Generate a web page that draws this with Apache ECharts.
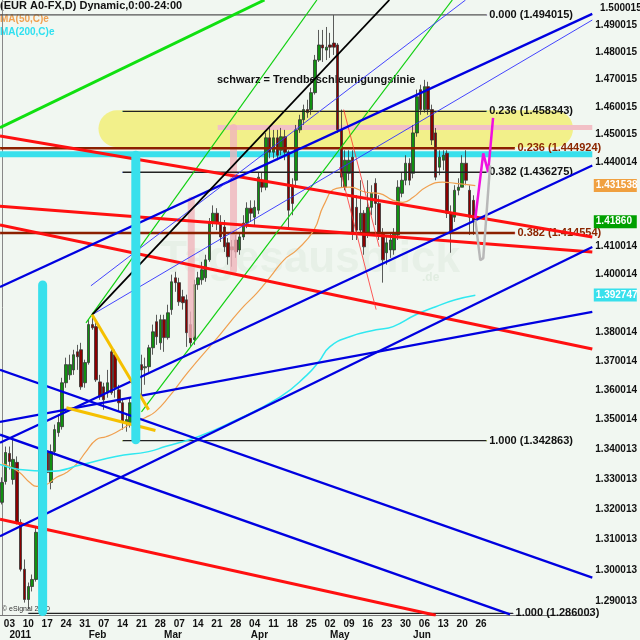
<!DOCTYPE html>
<html><head><meta charset="utf-8">
<script src="https://cdn.jsdelivr.net/npm/echarts@6/dist/echarts.min.js"></script>
<style>html,body{margin:0;padding:0;background:#f1f7f1}#c{width:640px;height:640px}</style>
</head><body><div id="c"></div>
<script>
// ---- categories & tick labels ----
const N = 157; // trading-day slots from 30 Dec 2010
const categories = Array.from({length: N}, (_, i) => String(i));
const weekIdx = [2,7,12,17,22,27,32,37,42,47,52,57,62,67,72,77,82,87,92,97,102,107,112,117,122,127];
const weekLabels = ['03','10','17','24','31','07','14','21','28','07','14','21','28','04','11','18','25','02','09','16','23','30','06','13','20','26'];
const monthIdx = [2,23,43,66,87,109];
const monthLabels = ['2011','Feb','Mar','Apr','May','Jun'];
const yTicks = [1.290013,1.300013,1.310013,1.320013,1.330013,1.340013,1.350014,1.360014,1.370014,1.380014,1.400014,1.410014,1.440014,1.450015,1.460015,1.470015,1.480015,1.490015];

// ---- candles ----
const opens=[1.3223,1.3292,1.3386,1.3299,1.3356,1.3157,1.3003,1.2905,1.2947,1.2970,
1.3134,1.3366,1.3389,1.3289,1.3392,1.3456,1.3476,1.3625,1.3652,1.3669,
1.3731,1.3738,1.3625,1.3694,1.3825,1.3818,1.3628,1.3611,1.3591,1.3731,
1.3721,1.3601,1.3557,1.3490,1.3490,1.3557,1.3601,1.3687,1.3676,1.3680,
1.3745,1.3835,1.3762,1.3842,1.3780,1.3877,1.3988,1.3971,1.3922,1.3911,
1.3825,1.3773,1.3964,1.3981,1.3988,1.4051,1.4181,1.4216,1.4181,1.4167,
1.4111,1.4097,1.4121,1.4086,1.4132,1.4181,1.4234,1.4202,1.4227,1.4334,
1.4309,1.4487,1.4435,1.4487,1.4442,1.4491,1.4435,1.4316,1.4334,1.4516,
1.4553,1.4590,1.4590,1.4652,1.4772,1.4828,1.4809,1.4828,1.4835,1.4828,
1.4516,1.4309,1.4359,1.4417,1.4237,1.4156,1.4216,1.4146,1.4237,1.4323,
1.4251,1.4146,1.4076,1.4086,1.4086,1.4139,1.4287,1.4334,1.4395,1.4359,
1.4505,1.4663,1.4590,1.4674,1.4590,1.4505,1.4381,1.4406,1.4431,1.4216,
1.4202,1.4298,1.4309,1.4395,1.4298,1.4262];
const closes=[1.3289,1.3389,1.3359,1.3366,1.3157,1.3003,1.2905,1.2947,1.2970,1.3124,
1.3399,1.3456,1.3322,1.3392,1.3466,1.3490,1.3625,1.3687,1.3687,1.3721,
1.3714,1.3611,1.3694,1.3825,1.3814,1.3635,1.3577,1.3567,1.3625,1.3591,
1.3608,1.3557,1.3490,1.3500,1.3557,1.3608,1.3714,1.3669,1.3680,1.3745,
1.3800,1.3783,1.3842,1.3780,1.3866,1.3974,1.3971,1.3904,1.3901,1.3797,
1.3762,1.3964,1.3988,1.4016,1.4051,1.4181,1.4216,1.4181,1.4132,1.4097,
1.4062,1.4086,1.4079,1.4132,1.4181,1.4234,1.4216,1.4237,1.4345,1.4309,
1.4487,1.4435,1.4487,1.4424,1.4491,1.4435,1.4227,1.4251,1.4516,1.4553,
1.4590,1.4579,1.4652,1.4772,1.4828,1.4817,1.4820,1.4820,1.4820,1.4516,
1.4345,1.4406,1.4406,1.4146,1.4156,1.4216,1.4097,1.4237,1.4287,1.4251,
1.4146,1.4051,1.4111,1.4121,1.4146,1.4309,1.4334,1.4395,1.4334,1.4505,
1.4637,1.4590,1.4674,1.4590,1.4479,1.4345,1.4417,1.4424,1.4216,1.4146,
1.4298,1.4309,1.4395,1.4334,1.4202,1.4186];
const lows=[1.3216,1.3282,1.3332,1.3282,1.3150,1.2996,1.2895,1.2873,1.2931,1.2963,
1.3127,1.3359,1.3276,1.3266,1.3379,1.3442,1.3466,1.3608,1.3635,1.3652,
1.3669,1.3601,1.3608,1.3687,1.3807,1.3628,1.3567,1.3533,1.3574,1.3584,
1.3574,1.3527,1.3466,1.3459,1.3473,1.3550,1.3594,1.3584,1.3618,1.3662,
1.3721,1.3755,1.3738,1.3731,1.3773,1.3859,1.3939,1.3890,1.3877,1.3748,
1.3748,1.3755,1.3946,1.3964,1.3974,1.4044,1.4167,1.4156,1.4114,1.4079,
1.4034,1.4027,1.4058,1.4069,1.4121,1.4163,1.4185,1.4174,1.4213,1.4291,
1.4298,1.4413,1.4413,1.4406,1.4424,1.4406,1.4167,1.4209,1.4316,1.4505,
1.4534,1.4560,1.4571,1.4645,1.4765,1.4765,1.4772,1.4780,1.4791,1.4505,
1.4309,1.4298,1.4334,1.4121,1.4121,1.4139,1.4069,1.4128,1.4209,1.4174,
1.4121,1.3971,1.4034,1.4058,1.4069,1.4121,1.4273,1.4316,1.4316,1.4341,
1.4491,1.4571,1.4579,1.4571,1.4461,1.4334,1.4352,1.4370,1.4199,1.4076,
1.4185,1.4280,1.4309,1.4316,1.4139,1.4139];
const highs=[1.3306,1.3409,1.3409,1.3432,1.3376,1.3167,1.3035,1.2960,1.2986,1.3140,
1.3432,1.3483,1.3442,1.3416,1.3483,1.3517,1.3642,1.3711,1.3721,1.3738,
1.3755,1.3762,1.3704,1.3842,1.3866,1.3835,1.3652,1.3625,1.3669,1.3738,
1.3738,1.3618,1.3567,1.3517,1.3574,1.3625,1.3731,1.3721,1.3711,1.3755,
1.3825,1.3859,1.3859,1.3859,1.3894,1.3999,1.4009,1.3988,1.3946,1.3929,
1.3870,1.3981,1.4009,1.4044,1.4069,1.4199,1.4244,1.4234,1.4209,1.4192,
1.4128,1.4121,1.4139,1.4149,1.4209,1.4255,1.4262,1.4262,1.4363,1.4363,
1.4505,1.4523,1.4516,1.4516,1.4523,1.4516,1.4442,1.4341,1.4534,1.4571,
1.4608,1.4626,1.4670,1.4791,1.4884,1.4884,1.4895,1.4873,1.4940,1.4835,
1.4590,1.4442,1.4442,1.4442,1.4280,1.4334,1.4227,1.4334,1.4316,1.4341,
1.4280,1.4163,1.4139,1.4149,1.4163,1.4334,1.4363,1.4424,1.4413,1.4534,
1.4663,1.4681,1.4699,1.4692,1.4608,1.4523,1.4442,1.4442,1.4442,1.4244,
1.4316,1.4341,1.4424,1.4442,1.4316,1.4280];

// ---- moving averages (sampled readings: [dayIndex, value]) ----
const ma50 = [[0,1.3352],[2.1,1.3342],[4.7,1.3322],[7.4,1.3289],[9.2,1.3276],[11.8,1.3282],[14.5,1.3306],[17.1,1.3322],[19.7,1.3349],[22.3,1.3392],[25,1.3432],[27.6,1.3442],[30.2,1.3456],[32.8,1.3476],[35.5,1.3493],[38.1,1.3507],[40.7,1.3527],[44.1,1.3574],[49.4,1.3662],[56.7,1.3773],[63.3,1.3877],[67.7,1.3936],[71.2,1.3992],[74.8,1.4051],[78.2,1.4086],[82.7,1.4156],[85.3,1.4244],[88.7,1.4305],[92.1,1.4309],[96.6,1.4291],[100,1.4287],[103.7,1.4262],[106.3,1.4255],[109,1.4273],[112.4,1.4309],[116.8,1.4327],[120.2,1.4323],[125.5,1.4315]];
const ma200 = [[-0.5,1.3349],[4.7,1.3332],[12.6,1.3326],[21.3,1.3349],[30.2,1.3376],[38.9,1.3392],[43.3,1.3409],[52,1.3442],[60.7,1.3490],[73.8,1.3577],[80.9,1.3652],[84,1.3697],[86.9,1.3748],[92.2,1.3783],[99.2,1.3807],[103.7,1.3818],[109.7,1.3859],[115,1.3887],[120.2,1.3911],[125.5,1.3927]];

// ---- drawn trend lines: [[day, price],[day, price]] ----
const greenThick = [[[-0.5,1.4524],[69.6,1.4996]]];
const greenThin = [[[22.3,1.3831],[83.5,1.4996]],[[37.0,1.3526],[119.4,1.4996]]];
const redThick = [[[-0.5,1.4494],[156.5,1.4132]],[[-0.5,1.4241],[156.5,1.4079]],[[-0.5,1.4174],[156.5,1.3741]],[[-0.5,1.3167],[115.0,1.2854]]];
const redThin = [[[90.6,1.4590],[100.0,1.4097]],[[89.5,1.4381],[99.2,1.3877]]];
const blueThick = [[[-0.5,1.3956],[156.5,1.4944]],[[-0.5,1.3422],[156.5,1.4387]],[[-0.5,1.3492],[156.5,1.3869]],[[-0.5,1.3669],[156.5,1.2976]],[[-0.5,1.3449],[134.7,1.2857]],[[-0.5,1.3111],[156.5,1.4096]]];
const blueThin = [[[23.6,1.3960],[122.9,1.4996]],[[23.9,1.3859],[156.5,1.4921]]];
const blackTrend = [[[23.9,1.3859],[102.7,1.4996]]];
const goldLines = [[[23.9,1.3859],[38.9,1.3533]],[[17.1,1.3540],[40.7,1.3463]]];
const magentaPath = [[125.5,1.4199],[127.6,1.4431],[128.9,1.4363],[130.2,1.4560]];
const grayPath = [[125.5,1.4192],[126.8,1.4050],[127.6,1.4057],[129.4,1.4387]];

// ---- fibonacci levels ----
const fibBlack = [[88,1.494015,'0.000 (1.494015)',-0.5,128.5],[32,1.458343,'0.236 (1.458343)',32,128.5],[32,1.436275,'0.382 (1.436275)',32,128.5],[32,1.342863,'1.000 (1.342863)',32,128.5],[7,1.286003,'1.000 (1.286003)',7,135.5]];
const fibBrown = [[1.444924,'0.236 (1.444924)'],[1.414554,'0.382 (1.414554)']];

// ---- highlight shapes ----
const yellowBand = [[30.5,1.4520],[146.5,1.4520]];
const cyanLevel = [[-0.5,1.4428],[156.5,1.4428]];
const cyanBars = [[[10.8,1.3963],[10.8,1.2866]],[[35.5,1.4424],[35.5,1.3432]]];
const pinkLevel = [[57.2,1.4525],[156.5,1.4525]];
const pinkBars = [[[61.4,1.4525],[61.4,1.4015]],[[50.2,1.4262],[50.2,1.3790]]];
const priceTags = [[1.431538,'1.431538','#f0a040'],[1.41860,'1.41860','#00a000'],[1.392747,'1.392747','#38e0ec']];

const chart = echarts.init(document.getElementById('c'));
const series = [];
function seg(pts, color, width, z, extra) {
  series.push(Object.assign({type:'line', xAxisIndex:2, data:pts, symbol:'none', silent:true, z:z||4,
    lineStyle:{color:color, width:width}, animation:false}, extra||{}));
}
seg(yellowBand, '#f2f08a', 37, 1, {lineStyle:{color:'#f2f08a', width:37, cap:'round'}});
seg(cyanLevel, '#38e0ec', 6, 1);
seg(pinkLevel, '#f2c0c6', 5, 1);
pinkBars.forEach(p => seg(p, 'rgba(240,180,188,0.8)', 7, 3, {lineStyle:{color:'rgba(240,180,188,0.8)', width:7, cap:'round'}}));
fibBrown.forEach(f => seg([[-0.5,f[0]],{value:[136,f[0]], symbol:'circle', symbolSize:1,
  label:{show:true, position:'right', distance:2, formatter:f[1], color:'#8b2500', fontSize:11, fontWeight:'bold', fontFamily:'Liberation Sans'}}],
  '#8b2000', 2.5, 3, {symbol:'circle', symbolSize:1, showSymbol:true}));
fibBlack.forEach(f => seg([[f[3],f[1]],{value:[f[4],f[1]], symbol:'circle', symbolSize:1,
  label:{show:true, position:'right', distance:2, formatter:f[2], color:'#111', fontSize:11, fontWeight:'bold', fontFamily:'Liberation Sans'}}],
  f[0]===88 ? '#555' : '#222', 1.3, 3, {symbol:'circle', symbolSize:1, showSymbol:true}));
seg(ma50, '#f0a050', 1.2, 3, {smooth:true});
seg(ma200, '#30e8f0', 1.5, 3, {smooth:true});
greenThick.forEach(p => seg(p, '#10e010', 3, 4));
greenThin.forEach(p => seg(p, '#10d010', 1.2, 4));
redThick.forEach(p => seg(p, '#ff1010', 3, 4));
redThin.forEach(p => seg(p, '#ff3030', 0.8, 4));
blueThick.forEach(p => seg(p, '#0000e0', 2.3, 4));
blueThin.forEach(p => seg(p, '#3030ff', 0.9, 4));
blackTrend.forEach(p => seg(p, '#000', 1.8, 4));
goldLines.forEach(p => seg(p, '#f5c000', 3, 4));
seg(magentaPath, '#f010e0', 2.5, 5);
seg(grayPath, '#b8b8b8', 2.5, 5);
cyanBars.forEach(p => seg(p, '#38e0ec', 9, 5, {lineStyle:{color:'#38e0ec', width:9, cap:'round'}}));
priceTags.forEach(t => seg([[150,t[0]],{value:[156.5,t[0]], symbol:'circle', symbolSize:1,
  label:{show:true, position:'right', distance:1, formatter:t[1], color:'#fff', backgroundColor:t[2],
    fontSize:10, fontWeight:'bold', fontFamily:'Liberation Sans', padding:[2,1,1,2], width:40}}],
  'rgba(0,0,0,0)', 0, 10, {symbol:'circle', symbolSize:1, showSymbol:true, clip:false, itemStyle:{color:'rgba(0,0,0,0)'}}));

const candleData = categories.map((c,i) => i < closes.length ? [opens[i], closes[i], lows[i], highs[i]] : '-');
series.push({type:'candlestick', xAxisIndex:0, data:candleData, barWidth:3, z:2, animation:false,
  itemStyle:{color:'#109010', color0:'#8b0000', borderColor:'#333', borderColor0:'#333', borderWidth:0.8}});

chart.setOption({
  animation:false,
  backgroundColor:'#f1f7f1',
  grid:{left:0, right:42, top:0, bottom:25},
  xAxis:[
    {type:'category', data:categories, boundaryGap:true, position:'bottom',
     axisLine:{lineStyle:{color:'#777'}},
     axisTick:{interval:(i)=>weekIdx.includes(i), length:3, lineStyle:{color:'#555'}},
     axisLabel:{interval:(i)=>weekIdx.includes(i), formatter:(v,i)=>weekLabels[weekIdx.indexOf(+v)] || '',
       color:'#111', fontSize:10, fontWeight:'bold', fontFamily:'Liberation Sans', margin:4, hideOverlap:false},
     splitLine:{show:false}},
    {type:'category', data:categories, boundaryGap:true, position:'bottom', offset:11,
     axisLine:{show:false}, axisTick:{show:false},
     axisLabel:{interval:(i)=>monthIdx.includes(i), formatter:(v)=>monthLabels[monthIdx.indexOf(+v)] || '', align:'left',
       color:'#111', fontSize:10, fontWeight:'bold', fontFamily:'Liberation Sans', margin:4}},
    {type:'value', min:-0.5, max:N-0.5, show:false}
  ],
  yAxis:{type:'log', min:1.2855, max:1.4996, position:'right',
    axisLine:{show:true, lineStyle:{color:'#888'}}, axisTick:{show:false}, splitLine:{show:false},
    axisLabel:{customValues:yTicks, formatter:(v)=>v.toFixed(6), color:'#111', fontSize:10, fontWeight:'bold', fontFamily:'Liberation Sans', margin:3}},
  graphic:[
    {type:'text', left:160, top:238, silent:true, z:0, style:{text:'Tagesausblick', font:'bold 44px Liberation Sans', fill:'rgba(195,218,195,0.22)'}},
    {type:'text', left:422, top:272, silent:true, z:0, style:{text:'.de', font:'bold 12px Liberation Sans', fill:'rgba(195,218,195,0.35)'}},
    {type:'text', left:0, top:0, style:{text:'(EUR A0-FX,D) Dynamic,0:00-24:00', font:'bold 11px Liberation Sans', fill:'#111'}},
    {type:'text', left:0, top:14, style:{text:'MA(50,C)e', font:'bold 10px Liberation Sans', fill:'#f0a050'}},
    {type:'text', left:0, top:27, style:{text:'MA(200,C)e', font:'bold 10px Liberation Sans', fill:'#30e0f0'}},
    {type:'text', left:217, top:74, style:{text:'schwarz = Trendbeschleunigungslinie', font:'bold 11px Liberation Sans', fill:'#111'}},
    {type:'text', left:600, top:3, style:{text:'1.500015', font:'bold 10px Liberation Sans', fill:'#111'}},
    {type:'text', left:2, top:606, style:{text:'© eSignal 2010', font:'7px Liberation Sans', fill:'#333'}}
  ],
  series: series
});
</script></body></html>
